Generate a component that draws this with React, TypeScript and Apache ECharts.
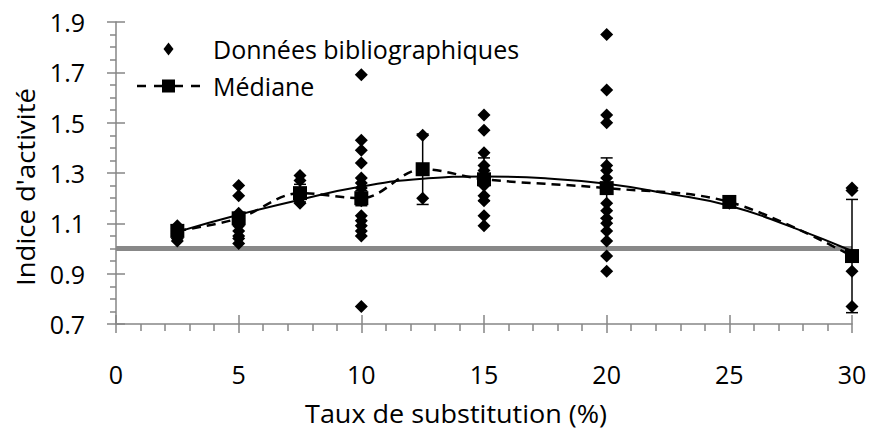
import React, { useEffect, useRef } from "react";
import * as echarts from "echarts";

// Taux de substitution (%) for each group of measurements
const groupX = [2.5, 5, 7.5, 10, 12.5, 15, 20, 25, 30];

// Données bibliographiques (indice d'activité), one list per substitution rate
const pts2_5 = [1.09, 1.08, 1.07, 1.06, 1.05, 1.04, 1.03];
const pts5 = [1.25, 1.21, 1.14, 1.13, 1.11, 1.09, 1.07, 1.05, 1.04, 1.02];
const pts7_5 = [1.29, 1.27, 1.22, 1.2, 1.18];
const pts10 = [1.69, 1.43, 1.39, 1.34, 1.28, 1.26, 1.24, 1.21, 1.19, 1.13, 1.11, 1.09, 1.07, 1.05, 0.77];
const pts12_5 = [1.45, 1.2];
const pts15 = [1.53, 1.47, 1.38, 1.33, 1.31, 1.29, 1.27, 1.25, 1.21, 1.19, 1.13, 1.09];
const pts20 = [1.85, 1.63, 1.53, 1.5, 1.33, 1.31, 1.28, 1.24, 1.18, 1.15, 1.12, 1.1, 1.07, 1.03, 0.97, 0.91];
const pts25 = [1.18];
const pts30 = [1.24, 1.23, 0.91, 0.77];
const groupPoints = [pts2_5, pts5, pts7_5, pts10, pts12_5, pts15, pts20, pts25, pts30];

// Médiane and its error half-width
const medians = [1.07, 1.12, 1.22, 1.2, 1.315, 1.275, 1.24, 1.185, 0.97];
const medianErr = [0.02, 0.02, 0.035, 0.03, 0.14, 0.085, 0.12, 0.01, 0.225];

// Polynomial trend curve
const trendX = [2.5, 5, 7.5, 10, 12.5, 15, 17.5, 20, 22.5, 25, 27.5, 30];
const trendY = [1.066, 1.134, 1.194, 1.246, 1.277, 1.286, 1.279, 1.257, 1.218, 1.17, 1.087, 0.99];

// Reference line (indice = 1)
const refX = [0, 30];
const refY = [1, 1];

const yTicks = [0.7, 0.9, 1.1, 1.3, 1.5, 1.7, 1.9];
const xTicks = [0, 5, 10, 15, 20, 25, 30];

const FONT = "Open Sans";
const FS = 25;
const AXIS_GREY = "#868686";

const DIAMOND_ICON = "path://M5,0L10,6.5L5,13L0,6.5Z";
const MEDIAN_ICON =
  "path://M0,5.25h9v2.5h-9z M17,5.25h8v2.5h-8z M25,0h13v13h-13z M38,5.25h8v2.5h-8z M54,5.25h9v2.5h-9z";

export default function App() {
  const ref = useRef<HTMLDivElement>(null);

  useEffect(() => {
    if (!ref.current) return;
    const chart = echarts.init(ref.current, undefined, { renderer: "svg" });

    const scatterData: number[][] = [];
    groupX.forEach((x, i) => groupPoints[i].forEach((v) => scatterData.push([x, v])));
    const medianData = groupX.map((x, i) => [x, medians[i]]);
    const errData = groupX.map((x, i) => [x, medians[i] - medianErr[i], medians[i] + medianErr[i]]);
    const trendData = trendX.map((x, i) => [x, trendY[i]]);
    const refData = refX.map((x, i) => [x, refY[i]]);

    const yMin = yTicks[0];
    const yMax = yTicks[yTicks.length - 1];
    const xMin = xTicks[0];
    const xMax = xTicks[xTicks.length - 1];

    chart.setOption({
      animation: false,
      backgroundColor: "#ffffff",
      textStyle: { fontFamily: FONT },
      grid: { left: 116, right: 18, top: 22, bottom: 106, containLabel: false },
      legend: {
        orient: "vertical",
        left: 137,
        top: 35,
        padding: 0,
        itemWidth: 63,
        itemHeight: 13,
        itemGap: 9,
        selectedMode: false,
        symbolKeepAspect: true,
        textStyle: { fontFamily: FONT, fontSize: FS, color: "#000", lineHeight: 28, padding: [0, 0, 0, 8] },
        data: [
          { name: "Données bibliographiques", icon: DIAMOND_ICON, itemStyle: { color: "#000", opacity: 1 } },
          { name: "Médiane", icon: MEDIAN_ICON, itemStyle: { color: "#000", opacity: 1 } },
        ],
      },
      xAxis: [
        {
          type: "value",
          min: xMin,
          max: xMax,
          interval: 5,
          position: "bottom",
          axisLine: { show: true, onZero: false, lineStyle: { color: AXIS_GREY, width: 1.5 } },
          axisTick: { show: true, inside: false, length: 9, lineStyle: { color: AXIS_GREY, width: 1.5 } },
          minorTick: { show: true, splitNumber: 5, length: 7, lineStyle: { color: AXIS_GREY, width: 1.5 } },
          splitLine: { show: false },
          minorSplitLine: { show: false },
          axisLabel: { fontFamily: FONT, fontSize: FS, color: "#000", margin: 37 },
        },
        {
          type: "value",
          min: xMin,
          max: xMax,
          interval: 5,
          position: "bottom",
          axisLine: { show: false },
          axisTick: { show: true, inside: true, length: 9, lineStyle: { color: AXIS_GREY, width: 1.5 } },
          axisLabel: { show: false },
          splitLine: { show: false },
        },
      ],
      yAxis: [
        {
          type: "value",
          min: yMin,
          max: yMax,
          interval: 0.2,
          position: "left",
          axisLine: { show: true, onZero: false, lineStyle: { color: AXIS_GREY, width: 1.5 } },
          axisTick: { show: true, inside: false, length: 9, lineStyle: { color: AXIS_GREY, width: 1.5 } },
          minorTick: { show: true, splitNumber: 4, length: 6, lineStyle: { color: AXIS_GREY, width: 1.5 } },
          splitLine: { show: false },
          minorSplitLine: { show: false },
          axisLabel: {
            fontFamily: FONT,
            fontSize: FS,
            color: "#000",
            margin: 31,
            formatter: (v: number) => v.toFixed(1),
          },
        },
        {
          type: "value",
          min: yMin,
          max: yMax,
          interval: 0.2,
          position: "left",
          axisLine: { show: false },
          axisTick: { show: true, inside: true, length: 9, lineStyle: { color: AXIS_GREY, width: 1.5 } },
          axisLabel: { show: false },
          splitLine: { show: false },
        },
      ],
      series: [
        {
          name: "ref",
          type: "line",
          data: refData,
          symbol: "none",
          silent: true,
          z: 1,
          lineStyle: { color: "#888888", width: 5 },
        },
        {
          name: "Tendance",
          type: "line",
          data: trendData,
          symbol: "none",
          smooth: true,
          silent: true,
          z: 2,
          lineStyle: { color: "#000", width: 2 },
        },
        {
          name: "Médiane",
          type: "line",
          data: medianData,
          smooth: 0.35,
          symbol: "rect",
          symbolSize: 14,
          z: 5,
          itemStyle: { color: "#000" },
          lineStyle: { color: "#000", width: 2.5, type: [9, 6] },
        },
        {
          name: "Données bibliographiques",
          type: "scatter",
          data: scatterData,
          symbol: "diamond",
          symbolSize: [13, 13],
          z: 3,
          itemStyle: { color: "#000", opacity: 1 },
        },
        {
          name: "Erreur",
          type: "custom",
          data: errData,
          z: 4,
          silent: true,
          renderItem: (params: any, api: any) => {
            const x = api.value(0);
            const lo = api.coord([x, api.value(1)]);
            const hi = api.coord([x, api.value(2)]);
            const w = 6;
            const st = { stroke: "#000", lineWidth: 1.5 };
            return {
              type: "group",
              children: [
                { type: "line", shape: { x1: hi[0], y1: hi[1], x2: lo[0], y2: lo[1] }, style: st },
                { type: "line", shape: { x1: hi[0] - w, y1: hi[1], x2: hi[0] + w, y2: hi[1] }, style: st },
                { type: "line", shape: { x1: lo[0] - w, y1: lo[1], x2: lo[0] + w, y2: lo[1] }, style: st },
              ],
            };
          },
        },
      ],
      graphic: [
        {
          type: "text",
          x: 25,
          y: 187,
          rotation: Math.PI / 2,
          scaleX: 1.1,
          style: {
            text: "Indice d'activité",
            fontFamily: FONT,
            fontSize: FS,
            fill: "#000",
            align: "center",
            verticalAlign: "middle",
          },
        },
        {
          type: "text",
          x: 456,
          y: 413,
          scaleX: 1.08,
          style: {
            text: "Taux de substitution (%)",
            fontFamily: FONT,
            fontSize: FS,
            fill: "#000",
            align: "center",
            verticalAlign: "middle",
          },
        },
      ],
    });

    return () => chart.dispose();
  }, []);

  return (
    <div
      ref={ref}
      style={{ position: "fixed", left: 0, top: 0, width: 870, height: 430, background: "#fff" }}
    />
  );
}
